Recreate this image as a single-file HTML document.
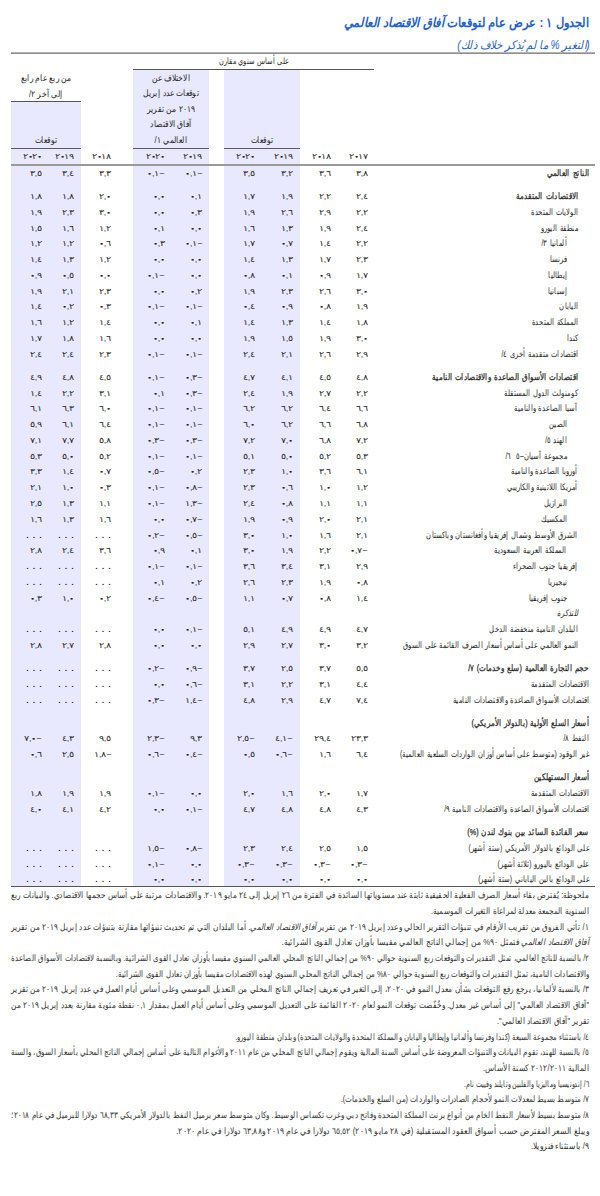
<!DOCTYPE html>
<html lang="ar"><head><meta charset="utf-8"><title>Table 1</title>
<style>
html,body{margin:0;padding:0;background:#fff;}
body{width:600px;height:1196px;position:relative;overflow:hidden;font-family:"Liberation Sans",sans-serif;color:#262626;}
.a{position:absolute;}
.lav{position:absolute;background:#e8e8ff;}
.rule{position:absolute;}
.lb{position:absolute;white-space:nowrap;direction:rtl;unicode-bidi:bidi-override;font-size:9px;line-height:14px;height:14px;word-spacing:0.8px;transform:scaleX(0.75);transform-origin:100% 50%;}
.z{font-weight:bold;-webkit-text-stroke:0.4px #262626;}
.nm.dt{letter-spacing:0.6px;font-weight:bold;}
.b{font-weight:normal;-webkit-text-stroke:0.25px #262626;transform:scaleX(0.8);}
.it{font-style:italic;}
.nm{position:absolute;white-space:nowrap;direction:ltr;unicode-bidi:bidi-override;font-size:7.5px;letter-spacing:0px;margin-right:-0.8px;line-height:14px;height:14px;transform:scaleX(1.2);transform-origin:100% 50%;-webkit-text-stroke:0px #262626;}
.hd{position:absolute;white-space:nowrap;direction:rtl;font-size:9px;line-height:14px;height:14px;transform:scaleX(0.84);transform-origin:50% 50%;text-align:center;}
.fn{position:absolute;right:11px;color:#333;width:688.1px;white-space:nowrap;direction:rtl;text-align:right;font-size:9px;line-height:14px;height:14px;transform:scaleX(0.84);transform-origin:100% 50%;}
.fn.j{text-align:justify;text-align-last:justify;white-space:nowrap;}
</style></head>
<body>
<div class="a" style="right:11px;top:14px;white-space:nowrap;direction:rtl;font-size:13px;line-height:18px;font-weight:bold;color:#2462d2;transform:scaleX(0.88);transform-origin:100% 50%;">الجدول ١ : عرض عام لتوقعات <i>آفاق الاقتصاد العالمي</i></div>
<div class="a" style="right:10px;top:37px;white-space:nowrap;direction:rtl;font-size:12px;line-height:16px;font-style:italic;color:#1f5fd0;transform:scaleX(0.85);transform-origin:100% 50%;">(التغير % ما لم يُذكر خلاف ذلك)</div>

<div class="lav" style="left:11px;width:70px;top:102px;height:784px;"></div>
<div class="lav" style="left:133px;width:76px;top:70px;height:816px;"></div>
<div class="lav" style="left:224px;width:76px;top:70px;height:816px;"></div>

<div class="rule" style="left:11px;width:584px;top:52px;height:1px;background:#b4b4b4;"></div><div class="rule" style="left:11px;width:584px;top:53px;height:1px;background:#8e8e8e;"></div>
<div class="rule" style="left:133px;width:241px;top:69px;height:1px;background:#555;"></div>
<div class="rule" style="left:11px;width:70px;top:101px;height:1px;background:#555;"></div>
<div class="rule" style="left:11px;width:70px;top:148px;height:1px;background:#5a5a5a;"></div>
<div class="rule" style="left:133px;width:76px;top:148px;height:1px;background:#5a5a5a;"></div>
<div class="rule" style="left:224px;width:76px;top:148px;height:1px;background:#5a5a5a;"></div>
<div class="rule" style="left:11px;width:584px;top:164px;height:2px;background:#9a9a9a;"></div>
<div class="rule" style="left:11px;width:584px;top:885.6px;height:1.4px;background:#555;"></div>

<div class="hd" style="left:133px;width:241px;top:53.5px;transform:scaleX(0.73)">على أساس سنوي مقارن</div>
<div class="hd" style="left:11px;width:70px;top:71.0px;">من ربع عام رابع</div>
<div class="hd" style="left:11px;width:70px;top:86.5px;">إلى آخر ٢/</div>
<div class="hd" style="left:11px;width:70px;top:133.0px;">توقعات</div>
<div class="hd" style="left:133px;width:76px;top:70.7px;">الاختلاف عن</div>
<div class="hd" style="left:133px;width:76px;top:86.1px;">توقعات عدد إبريل</div>
<div class="hd" style="left:133px;width:76px;top:101.8px;">٢٠١٩ من تقرير</div>
<div class="hd" style="left:133px;width:76px;top:117.4px;">آفاق الاقتصاد</div>
<div class="hd" style="left:133px;width:76px;top:133.0px;">العالمي ١/</div>
<div class="hd" style="left:224px;width:76px;top:133.0px;">توقعات</div>
<div class="nm" style="top:150.00px;right:233.0px">٢<b class="z">٠</b>١٧</div>
<div class="nm" style="top:150.00px;right:270.0px">٢<b class="z">٠</b>١٨</div>
<div class="nm" style="top:150.00px;right:308.0px">٢<b class="z">٠</b>١٩</div>
<div class="nm" style="top:150.00px;right:346.0px">٢<b class="z">٠</b>٢<b class="z">٠</b></div>
<div class="nm" style="top:150.00px;right:398.5px">٢<b class="z">٠</b>١٩</div>
<div class="nm" style="top:150.00px;right:436.0px">٢<b class="z">٠</b>٢<b class="z">٠</b></div>
<div class="nm" style="top:150.00px;right:489.5px">٢<b class="z">٠</b>١٨</div>
<div class="nm" style="top:150.00px;right:526.5px">٢<b class="z">٠</b>١٩</div>
<div class="nm" style="top:150.00px;right:559.0px">٢<b class="z">٠</b>٢<b class="z">٠</b></div>
<div class="lb b" style="top:166.00px;right:11px">الناتج العالمي</div>
<div class="nm" style="top:167.00px;right:233.0px">٣,٨</div>
<div class="nm" style="top:167.00px;right:270.0px">٣,٦</div>
<div class="nm" style="top:167.00px;right:308.0px">٣,٢</div>
<div class="nm" style="top:167.00px;right:346.0px">٣,٥</div>
<div class="nm" style="top:167.00px;right:398.5px"><b class="z">٠</b>,١−</div>
<div class="nm" style="top:167.00px;right:436.0px"><b class="z">٠</b>,١−</div>
<div class="nm" style="top:167.00px;right:489.5px">٣,٣</div>
<div class="nm" style="top:167.00px;right:526.5px">٣,٤</div>
<div class="nm" style="top:167.00px;right:559.0px">٣,٥</div>
<div class="lb b" style="top:189.16px;right:22px">الاقتصادات المتقدمة</div>
<div class="nm" style="top:190.16px;right:233.0px">٢,٤</div>
<div class="nm" style="top:190.16px;right:270.0px">٢,٢</div>
<div class="nm" style="top:190.16px;right:308.0px">١,٩</div>
<div class="nm" style="top:190.16px;right:346.0px">١,٧</div>
<div class="nm" style="top:190.16px;right:398.5px"><b class="z">٠</b>,١</div>
<div class="nm" style="top:190.16px;right:436.0px"><b class="z">٠</b>,<b class="z">٠</b></div>
<div class="nm" style="top:190.16px;right:489.5px">٢,<b class="z">٠</b></div>
<div class="nm" style="top:190.16px;right:526.5px">١,٨</div>
<div class="nm" style="top:190.16px;right:559.0px">١,٨</div>
<div class="lb" style="top:204.92px;right:22px">الولايات المتحدة</div>
<div class="nm" style="top:205.92px;right:233.0px">٢,٢</div>
<div class="nm" style="top:205.92px;right:270.0px">٢,٩</div>
<div class="nm" style="top:205.92px;right:308.0px">٢,٦</div>
<div class="nm" style="top:205.92px;right:346.0px">١,٩</div>
<div class="nm" style="top:205.92px;right:398.5px"><b class="z">٠</b>,٣</div>
<div class="nm" style="top:205.92px;right:436.0px"><b class="z">٠</b>,<b class="z">٠</b></div>
<div class="nm" style="top:205.92px;right:489.5px">٣,<b class="z">٠</b></div>
<div class="nm" style="top:205.92px;right:526.5px">٢,٣</div>
<div class="nm" style="top:205.92px;right:559.0px">١,٩</div>
<div class="lb" style="top:220.68px;right:22px">منطقة اليورو</div>
<div class="nm" style="top:221.68px;right:233.0px">٢,٤</div>
<div class="nm" style="top:221.68px;right:270.0px">١,٩</div>
<div class="nm" style="top:221.68px;right:308.0px">١,٣</div>
<div class="nm" style="top:221.68px;right:346.0px">١,٦</div>
<div class="nm" style="top:221.68px;right:398.5px"><b class="z">٠</b>,<b class="z">٠</b></div>
<div class="nm" style="top:221.68px;right:436.0px"><b class="z">٠</b>,١</div>
<div class="nm" style="top:221.68px;right:489.5px">١,٢</div>
<div class="nm" style="top:221.68px;right:526.5px">١,٦</div>
<div class="nm" style="top:221.68px;right:559.0px">١,٥</div>
<div class="lb" style="top:236.44px;right:33px">ألمانيا ٣/</div>
<div class="nm" style="top:237.44px;right:233.0px">٢,٢</div>
<div class="nm" style="top:237.44px;right:270.0px">١,٤</div>
<div class="nm" style="top:237.44px;right:308.0px"><b class="z">٠</b>,٧</div>
<div class="nm" style="top:237.44px;right:346.0px">١,٧</div>
<div class="nm" style="top:237.44px;right:398.5px"><b class="z">٠</b>,١−</div>
<div class="nm" style="top:237.44px;right:436.0px"><b class="z">٠</b>,٣</div>
<div class="nm" style="top:237.44px;right:489.5px"><b class="z">٠</b>,٦</div>
<div class="nm" style="top:237.44px;right:526.5px">١,٢</div>
<div class="nm" style="top:237.44px;right:559.0px">١,٢</div>
<div class="lb" style="top:252.20px;right:33px">فرنسا</div>
<div class="nm" style="top:253.20px;right:233.0px">٢,٣</div>
<div class="nm" style="top:253.20px;right:270.0px">١,٧</div>
<div class="nm" style="top:253.20px;right:308.0px">١,٣</div>
<div class="nm" style="top:253.20px;right:346.0px">١,٤</div>
<div class="nm" style="top:253.20px;right:398.5px"><b class="z">٠</b>,<b class="z">٠</b></div>
<div class="nm" style="top:253.20px;right:436.0px"><b class="z">٠</b>,<b class="z">٠</b></div>
<div class="nm" style="top:253.20px;right:489.5px">١,٢</div>
<div class="nm" style="top:253.20px;right:526.5px">١,٣</div>
<div class="nm" style="top:253.20px;right:559.0px">١,٤</div>
<div class="lb" style="top:267.96px;right:33px">إيطاليا</div>
<div class="nm" style="top:268.96px;right:233.0px">١,٧</div>
<div class="nm" style="top:268.96px;right:270.0px"><b class="z">٠</b>,٩</div>
<div class="nm" style="top:268.96px;right:308.0px"><b class="z">٠</b>,١</div>
<div class="nm" style="top:268.96px;right:346.0px"><b class="z">٠</b>,٨</div>
<div class="nm" style="top:268.96px;right:398.5px"><b class="z">٠</b>,<b class="z">٠</b></div>
<div class="nm" style="top:268.96px;right:436.0px"><b class="z">٠</b>,١−</div>
<div class="nm" style="top:268.96px;right:489.5px"><b class="z">٠</b>,<b class="z">٠</b></div>
<div class="nm" style="top:268.96px;right:526.5px"><b class="z">٠</b>,٥</div>
<div class="nm" style="top:268.96px;right:559.0px"><b class="z">٠</b>,٩</div>
<div class="lb" style="top:283.72px;right:33px">إسبانيا</div>
<div class="nm" style="top:284.72px;right:233.0px">٣,<b class="z">٠</b></div>
<div class="nm" style="top:284.72px;right:270.0px">٢,٦</div>
<div class="nm" style="top:284.72px;right:308.0px">٢,٣</div>
<div class="nm" style="top:284.72px;right:346.0px">١,٩</div>
<div class="nm" style="top:284.72px;right:398.5px"><b class="z">٠</b>,٢</div>
<div class="nm" style="top:284.72px;right:436.0px"><b class="z">٠</b>,<b class="z">٠</b></div>
<div class="nm" style="top:284.72px;right:489.5px">٢,٣</div>
<div class="nm" style="top:284.72px;right:526.5px">٢,١</div>
<div class="nm" style="top:284.72px;right:559.0px">١,٩</div>
<div class="lb" style="top:299.48px;right:22px">اليابان</div>
<div class="nm" style="top:300.48px;right:233.0px">١,٩</div>
<div class="nm" style="top:300.48px;right:270.0px"><b class="z">٠</b>,٨</div>
<div class="nm" style="top:300.48px;right:308.0px"><b class="z">٠</b>,٩</div>
<div class="nm" style="top:300.48px;right:346.0px"><b class="z">٠</b>,٤</div>
<div class="nm" style="top:300.48px;right:398.5px"><b class="z">٠</b>,١−</div>
<div class="nm" style="top:300.48px;right:436.0px"><b class="z">٠</b>,١−</div>
<div class="nm" style="top:300.48px;right:489.5px"><b class="z">٠</b>,٣</div>
<div class="nm" style="top:300.48px;right:526.5px"><b class="z">٠</b>,٢</div>
<div class="nm" style="top:300.48px;right:559.0px">١,٤</div>
<div class="lb" style="top:315.24px;right:22px">المملكة المتحدة</div>
<div class="nm" style="top:316.24px;right:233.0px">١,٨</div>
<div class="nm" style="top:316.24px;right:270.0px">١,٤</div>
<div class="nm" style="top:316.24px;right:308.0px">١,٣</div>
<div class="nm" style="top:316.24px;right:346.0px">١,٤</div>
<div class="nm" style="top:316.24px;right:398.5px"><b class="z">٠</b>,١</div>
<div class="nm" style="top:316.24px;right:436.0px"><b class="z">٠</b>,<b class="z">٠</b></div>
<div class="nm" style="top:316.24px;right:489.5px">١,٤</div>
<div class="nm" style="top:316.24px;right:526.5px">١,٢</div>
<div class="nm" style="top:316.24px;right:559.0px">١,٦</div>
<div class="lb" style="top:331.00px;right:22px">كندا</div>
<div class="nm" style="top:332.00px;right:233.0px">٣,<b class="z">٠</b></div>
<div class="nm" style="top:332.00px;right:270.0px">١,٩</div>
<div class="nm" style="top:332.00px;right:308.0px">١,٥</div>
<div class="nm" style="top:332.00px;right:346.0px">١,٩</div>
<div class="nm" style="top:332.00px;right:398.5px"><b class="z">٠</b>,<b class="z">٠</b></div>
<div class="nm" style="top:332.00px;right:436.0px"><b class="z">٠</b>,<b class="z">٠</b></div>
<div class="nm" style="top:332.00px;right:489.5px">١,٦</div>
<div class="nm" style="top:332.00px;right:526.5px">١,٨</div>
<div class="nm" style="top:332.00px;right:559.0px">١,٧</div>
<div class="lb" style="top:346.76px;right:22px">اقتصادات متقدمة أخرى ٤/</div>
<div class="nm" style="top:347.76px;right:233.0px">٢,٩</div>
<div class="nm" style="top:347.76px;right:270.0px">٢,٦</div>
<div class="nm" style="top:347.76px;right:308.0px">٢,١</div>
<div class="nm" style="top:347.76px;right:346.0px">٢,٤</div>
<div class="nm" style="top:347.76px;right:398.5px"><b class="z">٠</b>,١−</div>
<div class="nm" style="top:347.76px;right:436.0px"><b class="z">٠</b>,١−</div>
<div class="nm" style="top:347.76px;right:489.5px">٢,٣</div>
<div class="nm" style="top:347.76px;right:526.5px">٢,٤</div>
<div class="nm" style="top:347.76px;right:559.0px">٢,٤</div>
<div class="lb b" style="top:369.92px;right:22px">اقتصادات الأسواق الصاعدة والاقتصادات النامية</div>
<div class="nm" style="top:370.92px;right:233.0px">٤,٨</div>
<div class="nm" style="top:370.92px;right:270.0px">٤,٥</div>
<div class="nm" style="top:370.92px;right:308.0px">٤,١</div>
<div class="nm" style="top:370.92px;right:346.0px">٤,٧</div>
<div class="nm" style="top:370.92px;right:398.5px"><b class="z">٠</b>,٣−</div>
<div class="nm" style="top:370.92px;right:436.0px"><b class="z">٠</b>,١−</div>
<div class="nm" style="top:370.92px;right:489.5px">٤,٥</div>
<div class="nm" style="top:370.92px;right:526.5px">٤,٨</div>
<div class="nm" style="top:370.92px;right:559.0px">٤,٩</div>
<div class="lb" style="top:385.68px;right:22px">كومنولث الدول المستقلة</div>
<div class="nm" style="top:386.68px;right:233.0px">٢,٢</div>
<div class="nm" style="top:386.68px;right:270.0px">٢,٧</div>
<div class="nm" style="top:386.68px;right:308.0px">١,٩</div>
<div class="nm" style="top:386.68px;right:346.0px">٢,٤</div>
<div class="nm" style="top:386.68px;right:398.5px"><b class="z">٠</b>,٣−</div>
<div class="nm" style="top:386.68px;right:436.0px"><b class="z">٠</b>,١</div>
<div class="nm" style="top:386.68px;right:489.5px">٣,١</div>
<div class="nm" style="top:386.68px;right:526.5px">٢,٢</div>
<div class="nm" style="top:386.68px;right:559.0px">١,٤</div>
<div class="lb" style="top:401.44px;right:22px">آسيا الصاعدة والنامية</div>
<div class="nm" style="top:402.44px;right:233.0px">٦,٦</div>
<div class="nm" style="top:402.44px;right:270.0px">٦,٤</div>
<div class="nm" style="top:402.44px;right:308.0px">٦,٢</div>
<div class="nm" style="top:402.44px;right:346.0px">٦,٢</div>
<div class="nm" style="top:402.44px;right:398.5px"><b class="z">٠</b>,١−</div>
<div class="nm" style="top:402.44px;right:436.0px"><b class="z">٠</b>,١−</div>
<div class="nm" style="top:402.44px;right:489.5px">٦,<b class="z">٠</b></div>
<div class="nm" style="top:402.44px;right:526.5px">٦,٣</div>
<div class="nm" style="top:402.44px;right:559.0px">٦,١</div>
<div class="lb" style="top:417.20px;right:33px">الصين</div>
<div class="nm" style="top:418.20px;right:233.0px">٦,٨</div>
<div class="nm" style="top:418.20px;right:270.0px">٦,٦</div>
<div class="nm" style="top:418.20px;right:308.0px">٦,٢</div>
<div class="nm" style="top:418.20px;right:346.0px">٦,<b class="z">٠</b></div>
<div class="nm" style="top:418.20px;right:398.5px"><b class="z">٠</b>,١−</div>
<div class="nm" style="top:418.20px;right:436.0px"><b class="z">٠</b>,١−</div>
<div class="nm" style="top:418.20px;right:489.5px">٦,٤</div>
<div class="nm" style="top:418.20px;right:526.5px">٦,١</div>
<div class="nm" style="top:418.20px;right:559.0px">٥,٩</div>
<div class="lb" style="top:432.96px;right:33px">الهند ٥/</div>
<div class="nm" style="top:433.96px;right:233.0px">٧,٢</div>
<div class="nm" style="top:433.96px;right:270.0px">٦,٨</div>
<div class="nm" style="top:433.96px;right:308.0px">٧,<b class="z">٠</b></div>
<div class="nm" style="top:433.96px;right:346.0px">٧,٢</div>
<div class="nm" style="top:433.96px;right:398.5px"><b class="z">٠</b>,٣−</div>
<div class="nm" style="top:433.96px;right:436.0px"><b class="z">٠</b>,٣−</div>
<div class="nm" style="top:433.96px;right:489.5px">٥,٨</div>
<div class="nm" style="top:433.96px;right:526.5px">٧,٧</div>
<div class="nm" style="top:433.96px;right:559.0px">٧,١</div>
<div class="lb" style="top:448.72px;right:33px">مجموعة آسيان–٥&nbsp;&nbsp;٦/</div>
<div class="nm" style="top:449.72px;right:233.0px">٥,٣</div>
<div class="nm" style="top:449.72px;right:270.0px">٥,٢</div>
<div class="nm" style="top:449.72px;right:308.0px">٥,<b class="z">٠</b></div>
<div class="nm" style="top:449.72px;right:346.0px">٥,١</div>
<div class="nm" style="top:449.72px;right:398.5px"><b class="z">٠</b>,١−</div>
<div class="nm" style="top:449.72px;right:436.0px"><b class="z">٠</b>,١−</div>
<div class="nm" style="top:449.72px;right:489.5px">٥,٢</div>
<div class="nm" style="top:449.72px;right:526.5px">٥,<b class="z">٠</b></div>
<div class="nm" style="top:449.72px;right:559.0px">٥,٣</div>
<div class="lb" style="top:464.48px;right:22px">أوروبا الصاعدة والنامية</div>
<div class="nm" style="top:465.48px;right:233.0px">٦,١</div>
<div class="nm" style="top:465.48px;right:270.0px">٣,٦</div>
<div class="nm" style="top:465.48px;right:308.0px">١,<b class="z">٠</b></div>
<div class="nm" style="top:465.48px;right:346.0px">٢,٣</div>
<div class="nm" style="top:465.48px;right:398.5px"><b class="z">٠</b>,٢</div>
<div class="nm" style="top:465.48px;right:436.0px"><b class="z">٠</b>,٥−</div>
<div class="nm" style="top:465.48px;right:489.5px"><b class="z">٠</b>,٧</div>
<div class="nm" style="top:465.48px;right:526.5px">١,٤</div>
<div class="nm" style="top:465.48px;right:559.0px">٣,٣</div>
<div class="lb" style="top:480.24px;right:22px">أمريكا اللاتينية والكاريبي</div>
<div class="nm" style="top:481.24px;right:233.0px">١,٢</div>
<div class="nm" style="top:481.24px;right:270.0px">١,<b class="z">٠</b></div>
<div class="nm" style="top:481.24px;right:308.0px"><b class="z">٠</b>,٦</div>
<div class="nm" style="top:481.24px;right:346.0px">٢,٣</div>
<div class="nm" style="top:481.24px;right:398.5px"><b class="z">٠</b>,٨−</div>
<div class="nm" style="top:481.24px;right:436.0px"><b class="z">٠</b>,١−</div>
<div class="nm" style="top:481.24px;right:489.5px"><b class="z">٠</b>,٣</div>
<div class="nm" style="top:481.24px;right:526.5px">١,<b class="z">٠</b></div>
<div class="nm" style="top:481.24px;right:559.0px">٢,١</div>
<div class="lb" style="top:496.00px;right:33px">البرازيل</div>
<div class="nm" style="top:497.00px;right:233.0px">١,١</div>
<div class="nm" style="top:497.00px;right:270.0px">١,١</div>
<div class="nm" style="top:497.00px;right:308.0px"><b class="z">٠</b>,٨</div>
<div class="nm" style="top:497.00px;right:346.0px">٢,٤</div>
<div class="nm" style="top:497.00px;right:398.5px">١,٣−</div>
<div class="nm" style="top:497.00px;right:436.0px"><b class="z">٠</b>,١−</div>
<div class="nm" style="top:497.00px;right:489.5px">١,١</div>
<div class="nm" style="top:497.00px;right:526.5px">١,٣</div>
<div class="nm" style="top:497.00px;right:559.0px">٢,٥</div>
<div class="lb" style="top:511.76px;right:33px">المكسيك</div>
<div class="nm" style="top:512.76px;right:233.0px">٢,١</div>
<div class="nm" style="top:512.76px;right:270.0px">٢,<b class="z">٠</b></div>
<div class="nm" style="top:512.76px;right:308.0px"><b class="z">٠</b>,٩</div>
<div class="nm" style="top:512.76px;right:346.0px">١,٩</div>
<div class="nm" style="top:512.76px;right:398.5px"><b class="z">٠</b>,٧−</div>
<div class="nm" style="top:512.76px;right:436.0px"><b class="z">٠</b>,<b class="z">٠</b></div>
<div class="nm" style="top:512.76px;right:489.5px">١,٦</div>
<div class="nm" style="top:512.76px;right:526.5px">١,٣</div>
<div class="nm" style="top:512.76px;right:559.0px">١,٦</div>
<div class="lb" style="top:527.52px;right:22px">الشرق الأوسط وشمال إفريقيا وأفغانستان وباكستان</div>
<div class="nm" style="top:528.52px;right:233.0px">٢,١</div>
<div class="nm" style="top:528.52px;right:270.0px">١,٦</div>
<div class="nm" style="top:528.52px;right:308.0px">١,<b class="z">٠</b></div>
<div class="nm" style="top:528.52px;right:346.0px">٣,<b class="z">٠</b></div>
<div class="nm" style="top:528.52px;right:398.5px"><b class="z">٠</b>,٥−</div>
<div class="nm" style="top:528.52px;right:436.0px"><b class="z">٠</b>,٢−</div>
<div class="nm dt" style="top:528.52px;right:489.0px">. . .</div>
<div class="nm dt" style="top:528.52px;right:526.0px">. . .</div>
<div class="nm dt" style="top:528.52px;right:558.5px">. . .</div>
<div class="lb" style="top:543.28px;right:33px">المملكة العربية السعودية</div>
<div class="nm" style="top:544.28px;right:233.0px"><b class="z">٠</b>,٧−</div>
<div class="nm" style="top:544.28px;right:270.0px">٢,٢</div>
<div class="nm" style="top:544.28px;right:308.0px">١,٩</div>
<div class="nm" style="top:544.28px;right:346.0px">٣,<b class="z">٠</b></div>
<div class="nm" style="top:544.28px;right:398.5px"><b class="z">٠</b>,١</div>
<div class="nm" style="top:544.28px;right:436.0px"><b class="z">٠</b>,٩</div>
<div class="nm" style="top:544.28px;right:489.5px">٣,٦</div>
<div class="nm" style="top:544.28px;right:526.5px">٢,٤</div>
<div class="nm" style="top:544.28px;right:559.0px">٢,٨</div>
<div class="lb" style="top:559.04px;right:22px">إفريقيا جنوب الصحراء</div>
<div class="nm" style="top:560.04px;right:233.0px">٢,٩</div>
<div class="nm" style="top:560.04px;right:270.0px">٣,١</div>
<div class="nm" style="top:560.04px;right:308.0px">٣,٤</div>
<div class="nm" style="top:560.04px;right:346.0px">٣,٦</div>
<div class="nm" style="top:560.04px;right:398.5px"><b class="z">٠</b>,١−</div>
<div class="nm" style="top:560.04px;right:436.0px"><b class="z">٠</b>,١−</div>
<div class="nm dt" style="top:560.04px;right:489.0px">. . .</div>
<div class="nm dt" style="top:560.04px;right:526.0px">. . .</div>
<div class="nm dt" style="top:560.04px;right:558.5px">. . .</div>
<div class="lb" style="top:574.80px;right:33px">نيجيريا</div>
<div class="nm" style="top:575.80px;right:233.0px"><b class="z">٠</b>,٨</div>
<div class="nm" style="top:575.80px;right:270.0px">١,٩</div>
<div class="nm" style="top:575.80px;right:308.0px">٢,٣</div>
<div class="nm" style="top:575.80px;right:346.0px">٢,٦</div>
<div class="nm" style="top:575.80px;right:398.5px"><b class="z">٠</b>,٢</div>
<div class="nm" style="top:575.80px;right:436.0px"><b class="z">٠</b>,١</div>
<div class="nm dt" style="top:575.80px;right:489.0px">. . .</div>
<div class="nm dt" style="top:575.80px;right:526.0px">. . .</div>
<div class="nm dt" style="top:575.80px;right:558.5px">. . .</div>
<div class="lb" style="top:590.56px;right:33px">جنوب إفريقيا</div>
<div class="nm" style="top:591.56px;right:233.0px">١,٤</div>
<div class="nm" style="top:591.56px;right:270.0px"><b class="z">٠</b>,٨</div>
<div class="nm" style="top:591.56px;right:308.0px"><b class="z">٠</b>,٧</div>
<div class="nm" style="top:591.56px;right:346.0px">١,١</div>
<div class="nm" style="top:591.56px;right:398.5px"><b class="z">٠</b>,٥−</div>
<div class="nm" style="top:591.56px;right:436.0px"><b class="z">٠</b>,٤−</div>
<div class="nm" style="top:591.56px;right:489.5px"><b class="z">٠</b>,٢</div>
<div class="nm" style="top:591.56px;right:526.5px">١,<b class="z">٠</b></div>
<div class="nm" style="top:591.56px;right:559.0px"><b class="z">٠</b>,٣</div>
<div class="lb it" style="top:606.32px;right:22px">للتذكرة</div>
<div class="lb" style="top:622.08px;right:22px">البلدان النامية منخفضة الدخل</div>
<div class="nm" style="top:623.08px;right:233.0px">٤,٧</div>
<div class="nm" style="top:623.08px;right:270.0px">٤,٩</div>
<div class="nm" style="top:623.08px;right:308.0px">٤,٩</div>
<div class="nm" style="top:623.08px;right:346.0px">٥,١</div>
<div class="nm" style="top:623.08px;right:398.5px"><b class="z">٠</b>,١−</div>
<div class="nm" style="top:623.08px;right:436.0px"><b class="z">٠</b>,<b class="z">٠</b></div>
<div class="nm dt" style="top:623.08px;right:489.0px">. . .</div>
<div class="nm dt" style="top:623.08px;right:526.0px">. . .</div>
<div class="nm dt" style="top:623.08px;right:558.5px">. . .</div>
<div class="lb" style="top:637.84px;right:22px">النمو العالمي على أساس أسعار الصرف القائمة على السوق</div>
<div class="nm" style="top:638.84px;right:233.0px">٣,٢</div>
<div class="nm" style="top:638.84px;right:270.0px">٣,<b class="z">٠</b></div>
<div class="nm" style="top:638.84px;right:308.0px">٢,٧</div>
<div class="nm" style="top:638.84px;right:346.0px">٢,٩</div>
<div class="nm" style="top:638.84px;right:398.5px"><b class="z">٠</b>,<b class="z">٠</b></div>
<div class="nm" style="top:638.84px;right:436.0px"><b class="z">٠</b>,<b class="z">٠</b></div>
<div class="nm" style="top:638.84px;right:489.5px">٢,٨</div>
<div class="nm" style="top:638.84px;right:526.5px">٢,٧</div>
<div class="nm" style="top:638.84px;right:559.0px">٢,٨</div>
<div class="lb b" style="top:661.00px;right:11px">حجم التجارة العالمية (سلع وخدمات) ٧/</div>
<div class="nm" style="top:662.00px;right:233.0px">٥,٥</div>
<div class="nm" style="top:662.00px;right:270.0px">٣,٧</div>
<div class="nm" style="top:662.00px;right:308.0px">٢,٥</div>
<div class="nm" style="top:662.00px;right:346.0px">٣,٧</div>
<div class="nm" style="top:662.00px;right:398.5px"><b class="z">٠</b>,٩−</div>
<div class="nm" style="top:662.00px;right:436.0px"><b class="z">٠</b>,٢−</div>
<div class="nm dt" style="top:662.00px;right:489.0px">. . .</div>
<div class="nm dt" style="top:662.00px;right:526.0px">. . .</div>
<div class="nm dt" style="top:662.00px;right:558.5px">. . .</div>
<div class="lb" style="top:676.76px;right:11px">الاقتصادات المتقدمة</div>
<div class="nm" style="top:677.76px;right:233.0px">٤,٤</div>
<div class="nm" style="top:677.76px;right:270.0px">٣,١</div>
<div class="nm" style="top:677.76px;right:308.0px">٢,٢</div>
<div class="nm" style="top:677.76px;right:346.0px">٣,١</div>
<div class="nm" style="top:677.76px;right:398.5px"><b class="z">٠</b>,٦−</div>
<div class="nm" style="top:677.76px;right:436.0px"><b class="z">٠</b>,<b class="z">٠</b></div>
<div class="nm dt" style="top:677.76px;right:489.0px">. . .</div>
<div class="nm dt" style="top:677.76px;right:526.0px">. . .</div>
<div class="nm dt" style="top:677.76px;right:558.5px">. . .</div>
<div class="lb" style="top:692.52px;right:11px">اقتصادات الأسواق الصاعدة والاقتصادات النامية</div>
<div class="nm" style="top:693.52px;right:233.0px">٧,٤</div>
<div class="nm" style="top:693.52px;right:270.0px">٤,٧</div>
<div class="nm" style="top:693.52px;right:308.0px">٢,٩</div>
<div class="nm" style="top:693.52px;right:346.0px">٤,٨</div>
<div class="nm" style="top:693.52px;right:398.5px">١,٤−</div>
<div class="nm" style="top:693.52px;right:436.0px"><b class="z">٠</b>,٣−</div>
<div class="nm dt" style="top:693.52px;right:489.0px">. . .</div>
<div class="nm dt" style="top:693.52px;right:526.0px">. . .</div>
<div class="nm dt" style="top:693.52px;right:558.5px">. . .</div>
<div class="lb b" style="top:715.68px;right:11px">أسعار السلع الأولية (بالدولار الأمريكي)</div>
<div class="lb" style="top:731.44px;right:11px">النفط ٨/</div>
<div class="nm" style="top:732.44px;right:233.0px">٢٣,٣</div>
<div class="nm" style="top:732.44px;right:270.0px">٢٩,٤</div>
<div class="nm" style="top:732.44px;right:308.0px">٤,١−</div>
<div class="nm" style="top:732.44px;right:346.0px">٢,٥−</div>
<div class="nm" style="top:732.44px;right:398.5px">٩,٣</div>
<div class="nm" style="top:732.44px;right:436.0px">٢,٣−</div>
<div class="nm" style="top:732.44px;right:489.5px">٩,٥</div>
<div class="nm" style="top:732.44px;right:526.5px">٤,٣</div>
<div class="nm" style="top:732.44px;right:559.0px">٧,<b class="z">٠</b>−</div>
<div class="lb" style="top:747.20px;right:11px">غير الوقود (متوسط على أساس أوزان الواردات السلعية العالمية)</div>
<div class="nm" style="top:748.20px;right:233.0px">٦,٤</div>
<div class="nm" style="top:748.20px;right:270.0px">١,٦</div>
<div class="nm" style="top:748.20px;right:308.0px"><b class="z">٠</b>,٦−</div>
<div class="nm" style="top:748.20px;right:346.0px"><b class="z">٠</b>,٥</div>
<div class="nm" style="top:748.20px;right:398.5px"><b class="z">٠</b>,٤−</div>
<div class="nm" style="top:748.20px;right:436.0px"><b class="z">٠</b>,٦−</div>
<div class="nm" style="top:748.20px;right:489.5px">١,٨−</div>
<div class="nm" style="top:748.20px;right:526.5px">٢,٥</div>
<div class="nm" style="top:748.20px;right:559.0px"><b class="z">٠</b>,٦</div>
<div class="lb b" style="top:770.36px;right:11px">أسعار المستهلكين</div>
<div class="lb" style="top:786.12px;right:11px">الاقتصادات المتقدمة</div>
<div class="nm" style="top:787.12px;right:233.0px">١,٧</div>
<div class="nm" style="top:787.12px;right:270.0px">٢,<b class="z">٠</b></div>
<div class="nm" style="top:787.12px;right:308.0px">١,٦</div>
<div class="nm" style="top:787.12px;right:346.0px">٢,<b class="z">٠</b></div>
<div class="nm" style="top:787.12px;right:398.5px"><b class="z">٠</b>,<b class="z">٠</b></div>
<div class="nm" style="top:787.12px;right:436.0px"><b class="z">٠</b>,١−</div>
<div class="nm" style="top:787.12px;right:489.5px">١,٩</div>
<div class="nm" style="top:787.12px;right:526.5px">١,٩</div>
<div class="nm" style="top:787.12px;right:559.0px">١,٨</div>
<div class="lb" style="top:801.88px;right:11px">اقتصادات الأسواق الصاعدة والاقتصادات النامية ٩/</div>
<div class="nm" style="top:802.88px;right:233.0px">٤,٣</div>
<div class="nm" style="top:802.88px;right:270.0px">٤,٨</div>
<div class="nm" style="top:802.88px;right:308.0px">٤,٨</div>
<div class="nm" style="top:802.88px;right:346.0px">٤,٧</div>
<div class="nm" style="top:802.88px;right:398.5px"><b class="z">٠</b>,١−</div>
<div class="nm" style="top:802.88px;right:436.0px"><b class="z">٠</b>,<b class="z">٠</b></div>
<div class="nm" style="top:802.88px;right:489.5px">٤,٢</div>
<div class="nm" style="top:802.88px;right:526.5px">٤,١</div>
<div class="nm" style="top:802.88px;right:559.0px">٤,<b class="z">٠</b></div>
<div class="lb b" style="top:825.04px;right:11px">سعر الفائدة السائد بين بنوك لندن (%)</div>
<div class="lb" style="top:840.80px;right:11px">على الودائع بالدولار الأمريكي (ستة أشهر)</div>
<div class="nm" style="top:841.80px;right:233.0px">١,٥</div>
<div class="nm" style="top:841.80px;right:270.0px">٢,٥</div>
<div class="nm" style="top:841.80px;right:308.0px">٢,٤</div>
<div class="nm" style="top:841.80px;right:346.0px">٢,٣</div>
<div class="nm" style="top:841.80px;right:398.5px"><b class="z">٠</b>,٨−</div>
<div class="nm" style="top:841.80px;right:436.0px">١,٥−</div>
<div class="nm dt" style="top:841.80px;right:489.0px">. . .</div>
<div class="nm dt" style="top:841.80px;right:526.0px">. . .</div>
<div class="nm dt" style="top:841.80px;right:558.5px">. . .</div>
<div class="lb" style="top:856.56px;right:11px">على الودائع باليورو (ثلاثة أشهر)</div>
<div class="nm" style="top:857.56px;right:233.0px"><b class="z">٠</b>,٣−</div>
<div class="nm" style="top:857.56px;right:270.0px"><b class="z">٠</b>,٣−</div>
<div class="nm" style="top:857.56px;right:308.0px"><b class="z">٠</b>,٣−</div>
<div class="nm" style="top:857.56px;right:346.0px"><b class="z">٠</b>,٣−</div>
<div class="nm" style="top:857.56px;right:398.5px"><b class="z">٠</b>,<b class="z">٠</b></div>
<div class="nm" style="top:857.56px;right:436.0px"><b class="z">٠</b>,١−</div>
<div class="nm dt" style="top:857.56px;right:489.0px">. . .</div>
<div class="nm dt" style="top:857.56px;right:526.0px">. . .</div>
<div class="nm dt" style="top:857.56px;right:558.5px">. . .</div>
<div class="lb" style="top:872.32px;right:11px">على الودائع بالين الياباني (ستة أشهر)</div>
<div class="nm" style="top:873.32px;right:233.0px"><b class="z">٠</b>,<b class="z">٠</b></div>
<div class="nm" style="top:873.32px;right:270.0px"><b class="z">٠</b>,<b class="z">٠</b></div>
<div class="nm" style="top:873.32px;right:308.0px"><b class="z">٠</b>,<b class="z">٠</b></div>
<div class="nm" style="top:873.32px;right:346.0px"><b class="z">٠</b>,<b class="z">٠</b></div>
<div class="nm" style="top:873.32px;right:398.5px"><b class="z">٠</b>,<b class="z">٠</b></div>
<div class="nm" style="top:873.32px;right:436.0px"><b class="z">٠</b>,<b class="z">٠</b></div>
<div class="nm dt" style="top:873.32px;right:489.0px">. . .</div>
<div class="nm dt" style="top:873.32px;right:526.0px">. . .</div>
<div class="nm dt" style="top:873.32px;right:558.5px">. . .</div>
<div class="fn j" style="top:888.40px;transform:scaleX(0.8145);width:709.6px">ملحوظة: يُفترض بقاء أسعار الصرف الفعلية الحقيقية ثابتة عند مستوياتها السائدة في الفترة من ٢٦ إبريل إلى ٢٤ مايو ٢٠١٩. والاقتصادات مرتبة على أساس حجمها الاقتصادي. والبيانات ربع</div>
<div class="fn" style="top:904.08px;transform:scaleX(0.8064)">السنوية المجمعة معدلة لمراعاة التغيرات الموسمية.</div>
<div class="fn j" style="top:919.76px;transform:scaleX(0.8134);width:710.6px">١/ تأتي الفروق من تقريب الأرقام في تنبؤات التقرير الحالي وعدد إبريل ٢٠١٩ من تقرير <i>آفاق الاقتصاد العالمي</i>. أما البلدان التي تم تحديث تنبؤاتها مقارنة بتنبؤات عدد إبريل ٢٠١٩ من تقرير</div>
<div class="fn" style="top:935.44px;transform:scaleX(0.8400)"><i>آفاق الاقتصاد العالمي</i> فتمثل ٩٠% من إجمالي الناتج العالمي مقيسا بأوزان تعادل القوى الشرائية.</div>
<div class="fn j" style="top:951.12px;transform:scaleX(0.7808);width:740.2px">٢/ بالنسبة للناتج العالمي، تمثل التقديرات والتوقعات ربع السنوية حوالي ٩٠% من إجمالي الناتج المحلي العالمي السنوي مقيسا بأوزان تعادل القوى الشرائية. وبالنسبة لاقتصادات الأسواق الصاعدة</div>
<div class="fn" style="top:966.80px;transform:scaleX(0.7829)">والاقتصادات النامية، تمثل التقديرات والتوقعات ربع السنوية حوالي ٨٠% من إجمالي الناتج المحلي السنوي لهذه الاقتصادات مقيسا بأوزان تعادل القوى الشرائية.</div>
<div class="fn j" style="top:982.48px;transform:scaleX(0.8140);width:710.1px">٣/ بالنسبة لألمانيا، يرجع رفع التوقعات بشأن معدل النمو في ٢٠٢٠، إلى التغير في تعريف إجمالي الناتج المحلي من التعديل الموسمي وعلى أساس أيام العمل في عدد إبريل ٢٠١٩ من تقرير</div>
<div class="fn j" style="top:998.16px;transform:scaleX(0.8164);width:708.0px">"آفاق الاقتصاد العالمي" إلى أساس غير معدل. وخُفّضت توقعات النمو لعام ٢٠٢٠ القائمة على التعديل الموسمي وعلى أساس أيام العمل بمقدار ٠,١ نقطة مئوية مقارنة بعدد إبريل ٢٠١٩ من</div>
<div class="fn" style="top:1013.84px;transform:scaleX(0.8131)">تقرير "آفاق الاقتصاد العالمي".</div>
<div class="fn" style="top:1029.52px;transform:scaleX(0.7585)">٤/ باستثناء مجموعة السبعة (كندا وفرنسا وألمانيا وإيطاليا واليابان والمملكة المتحدة والولايات المتحدة) وبلدان منطقة اليورو.</div>
<div class="fn j" style="top:1045.20px;transform:scaleX(0.7878);width:733.7px">٥/ بالنسبة للهند، تقوم البيانات والتنبؤات المعروضة على أساس السنة المالية ويقوم إجمالي الناتج المحلي من عام ٢٠١١ والأعوام التالية على أساس إجمالي الناتج المحلي بأسعار السوق، والسنة</div>
<div class="fn" style="top:1060.88px;transform:scaleX(0.8316)">المالية ٢٠١٢/٢٠١١ كسنة الأساس.</div>
<div class="fn" style="top:1076.56px;transform:scaleX(0.6989)">٦/ إندونيسيا وماليزيا والفلبين وتايلند وفييت نام.</div>
<div class="fn" style="top:1092.24px;transform:scaleX(0.7930)">٧/ متوسط بسيط لمعدلات النمو لأحجام الصادرات والواردات (من السلع والخدمات).</div>
<div class="fn j" style="top:1107.92px;transform:scaleX(0.7971);width:725.2px">٨/ متوسط بسيط لأسعار النفط الخام من أنواع برنت المملكة المتحدة وفاتح دبي وغرب تكساس الوسيط. وكان متوسط سعر برميل النفط بالدولار الأمريكي ٦٨,٣٣ دولارا للبرميل في عام ٢٠١٨؛</div>
<div class="fn" style="top:1123.60px;transform:scaleX(0.8467)">ويبلغ السعر المفترض حسب أسواق العقود المستقبلية (في ٢٨ مايو ٢٠١٩) ٦٥,٥٢ دولارا في عام ٢٠١٩ و٦٣,٨٨ دولارا في عام ٢٠٢٠.</div>
<div class="fn" style="top:1139.28px;transform:scaleX(0.8400)">٩/ باستثناء فنزويلا.</div>
</body></html>
